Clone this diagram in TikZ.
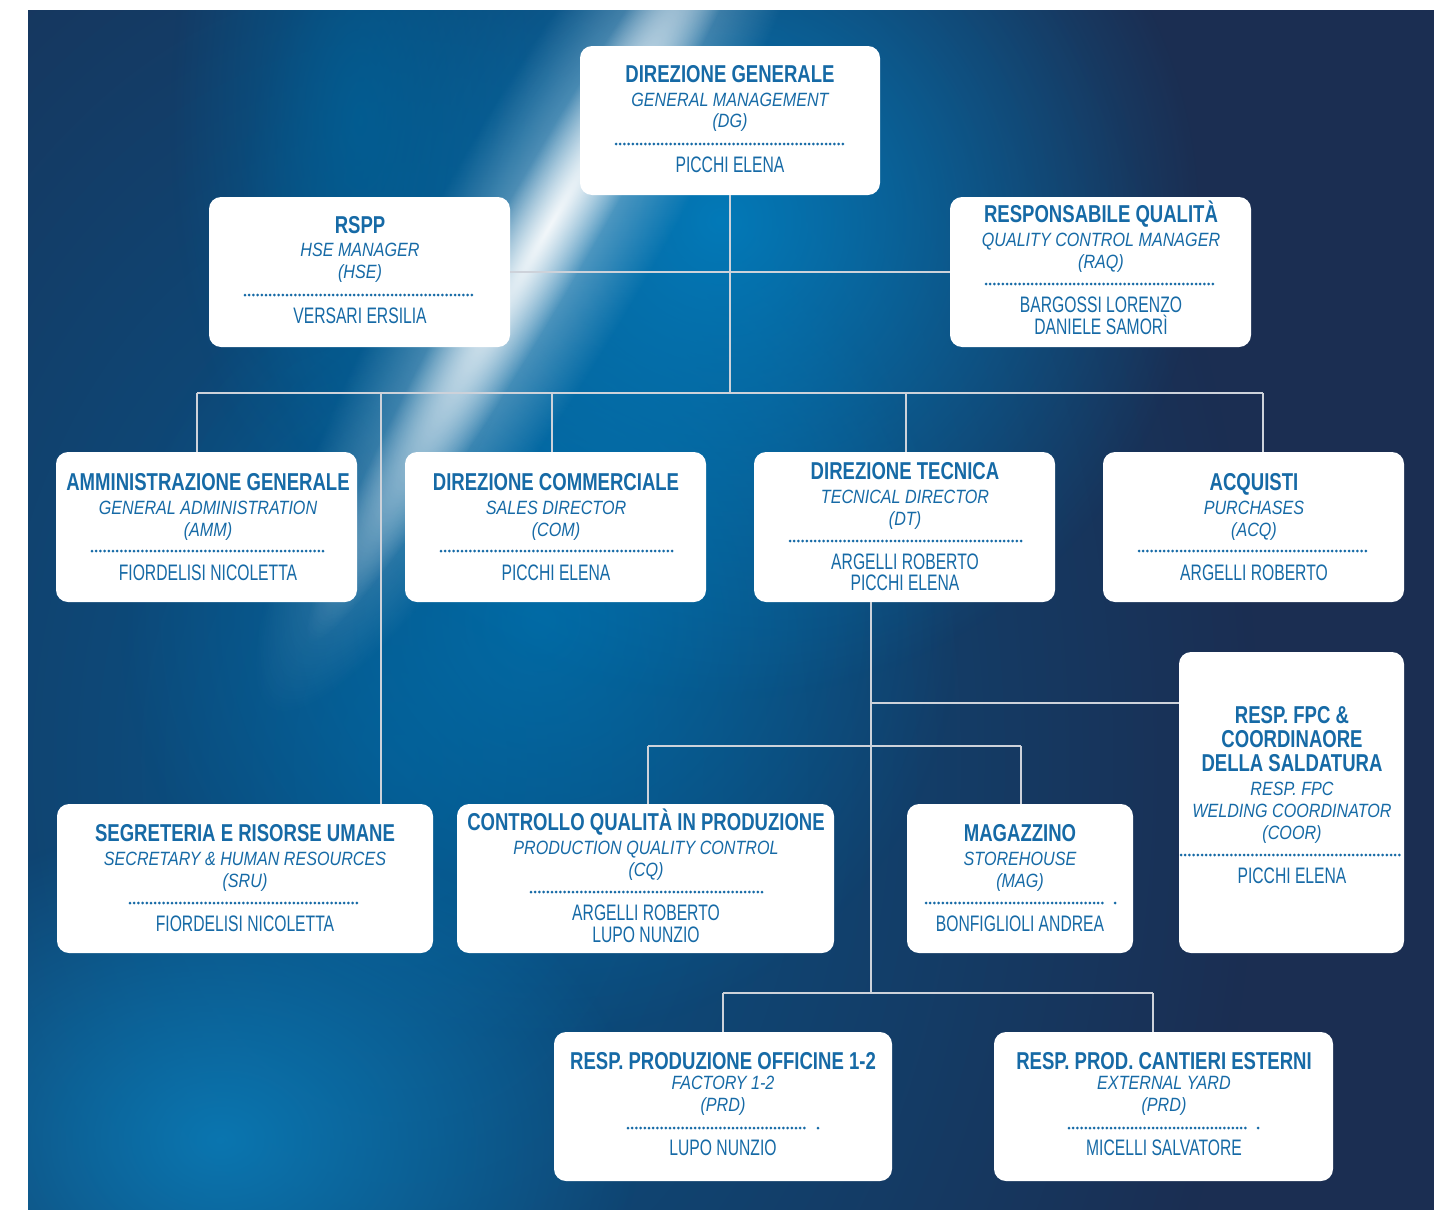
\documentclass[tikz,border=0pt]{standalone}
\usepackage{fontspec}
\setmainfont{Liberation Sans}
\newfontfamily\hfont[FakeStretch=0.76]{Liberation Sans}
\newfontfamily\ifont[FakeStretch=0.84]{Liberation Sans}
\newfontfamily\nfont[FakeStretch=0.70]{Liberation Sans}
\usetikzlibrary{fadings}
\tikzfading[name=soft, inner color=transparent!0, outer color=transparent!100]
\definecolor{tblue}{RGB}{22,106,166}
\definecolor{navy}{RGB}{27,46,82}
\definecolor{lineg}{RGB}{205,210,218}
\definecolor{gA}{RGB}{6,88,142}
\definecolor{gB}{RGB}{0,132,198}
\definecolor{gC}{RGB}{0,112,172}
\definecolor{gD}{RGB}{10,126,186}
\definecolor{gE}{RGB}{0,96,150}
\newcommand\tl[5]{\node[#2] (#1) at (#3,#4) {#5};}
\tikzset{
  orgbox/.style={fill=white, rounded corners=6pt, inner sep=0pt},
  hd/.style={font=\hfont\bfseries\fontsize{12.2}{12.2}\selectfont, text=tblue, inner sep=0pt, text height=8.75pt, text depth=0pt, anchor=center},
  it/.style={font=\ifont\itshape\fontsize{9.6}{9.6}\selectfont, text=tblue, inner sep=0pt, text height=6.9pt, text depth=0pt, anchor=center},
  nm/.style={font=\nfont\fontsize{11.2}{11.2}\selectfont, text=tblue, inner sep=0pt, text height=8pt, text depth=0pt, anchor=center},
  dotsep/.style={draw=tblue, line width=1.5pt, line cap=round, dash pattern=on 0pt off 2.1pt},
  conn/.style={draw=lineg, line width=0.8pt}
}
\begin{document}
\begin{tikzpicture}[x=0.5pt,y=-0.5pt]
\useasboundingbox (0,0) rectangle (1436,1210);
% ---------- background ----------
\begin{scope}
\clip (28,10) rectangle (1434,1210);
\fill[navy] (28,10) rectangle (1434,1210);
\fill[gA, fill opacity=0.95, path fading=soft] (400,760) ellipse [x radius=860, y radius=1200];
\fill[gC, fill opacity=0.8, path fading=soft] (540,620) ellipse [x radius=420, y radius=420];
\fill[gB, fill opacity=0.85, path fading=soft] (720,220) ellipse [x radius=480, y radius=480];
\fill[gD, fill opacity=0.85, path fading=soft] (220,1140) ellipse [x radius=420, y radius=320];
\fill[gE, fill opacity=0.8, path fading=soft] (360,120) ellipse [x radius=190, y radius=420];
\begin{scope}[transform canvas={rotate around={60:(550,225)}}]
\fill[white, fill opacity=0.5, path fading=soft] (550,225) ellipse [x radius=560, y radius=110];
\fill[white, fill opacity=0.9, path fading=soft] (550,225) ellipse [x radius=480, y radius=48];
\end{scope}
\end{scope}
% ---------- boxes ----------
\node[orgbox, minimum width=150pt, minimum height=74.5pt] (dg) at (730,120.5) {};
\node[orgbox, minimum width=150.5pt, minimum height=75pt] (rspp) at (359.5,272) {};
\node[orgbox, minimum width=150.5pt, minimum height=75pt] (raq) at (1100.5,272) {};
\node[orgbox, minimum width=150.5pt, minimum height=75pt] (amm) at (206.5,527) {};
\node[orgbox, minimum width=150.5pt, minimum height=75pt] (com) at (555.5,527) {};
\node[orgbox, minimum width=150.5pt, minimum height=75pt] (dt) at (904.5,527) {};
\node[orgbox, minimum width=150.5pt, minimum height=75pt] (acq) at (1253.5,527) {};
\node[orgbox, minimum width=112.5pt, minimum height=150.5pt] (coor) at (1291.5,802.5) {};
\node[orgbox, minimum width=188pt, minimum height=74.5pt] (sru) at (245,878.5) {};
\node[orgbox, minimum width=188.5pt, minimum height=74.5pt] (cq) at (645.5,878.5) {};
\node[orgbox, minimum width=113pt, minimum height=74.5pt] (mag) at (1020,878.5) {};
\node[orgbox, minimum width=169pt, minimum height=74.5pt] (prda) at (723,1106.5) {};
\node[orgbox, minimum width=169.5pt, minimum height=74.5pt] (prdb) at (1163.5,1106.5) {};
% ---------- connectors ----------
\coordinate (b0) at (730,393);
\coordinate (bA) at (197,393);
\coordinate (bS) at (381,393);
\coordinate (bC) at (552,393);
\coordinate (bD) at (906,393);
\coordinate (bR) at (1263,393);
\coordinate (s0) at (871,602);
\coordinate (s1) at (871,703);
\coordinate (s2) at (871,746);
\coordinate (s3) at (871,993);
\coordinate (qL) at (648,746);
\coordinate (qR) at (1021,746);
\coordinate (pL) at (723,993);
\coordinate (pR) at (1153,993);
\draw[conn] (dg.south) -- (b0);
\draw[conn] (rspp.east) -- (raq.west);
\draw[conn] (bA) -- (bR);
\draw[conn] (bA) -- (bA |- amm.north);
\draw[conn] (bS) -- (bS |- sru.north);
\draw[conn] (bC) -- (bC |- com.north);
\draw[conn] (bD) -- (bD |- dt.north);
\draw[conn] (bR) -- (bR |- acq.north);
\draw[conn] (s0) -- (s3);
\draw[conn] (s1) -- (s1 -| coor.west);
\draw[conn] (qL) -- (qR);
\draw[conn] (qL) -- (qL |- cq.north);
\draw[conn] (qR) -- (qR |- mag.north);
\draw[conn] (pL) -- (pR);
\draw[conn] (pL) -- (pL |- prda.north);
\draw[conn] (pR) -- (pR |- prdb.north);
% ---------- texts ----------
% DG
\tl{dg1}{hd}{730}{74}{DIREZIONE GENERALE}
\tl{dg2}{it}{730}{100}{GENERAL MANAGEMENT}
\tl{dg3}{it}{730}{121}{(DG)}
\draw[dotsep] (616,144) -- (846,144);
\tl{dg4}{nm}{730}{164}{PICCHI ELENA}
% RSPP
\tl{rs1}{hd}{360}{225}{RSPP}
\tl{rs2}{it}{360}{250}{HSE MANAGER}
\tl{rs3}{it}{360}{272}{(HSE)}
\draw[dotsep] (245,295) -- (475,295);
\tl{rs4}{nm}{360}{315}{VERSARI ERSILIA}
% RAQ
\tl{rq1}{hd}{1101}{214}{RESPONSABILE QUALITÀ}
\tl{rq2}{it}{1101}{240}{QUALITY CONTROL MANAGER}
\tl{rq3}{it}{1101}{262}{(RAQ)}
\draw[dotsep] (986,284) -- (1216,284);
\tl{rq4}{nm}{1101}{304}{BARGOSSI LORENZO}
\tl{rq5}{nm}{1101}{326}{DANIELE SAMORÌ}
% AMM
\tl{am1}{hd}{208}{482}{AMMINISTRAZIONE GENERALE}
\tl{am2}{it}{208}{508}{GENERAL ADMINISTRATION}
\tl{am3}{it}{208}{530}{(AMM)}
\draw[dotsep] (92,551) -- (323,551);
\tl{am4}{nm}{208}{572}{FIORDELISI NICOLETTA}
% COM
\tl{co1}{hd}{556}{482}{DIREZIONE COMMERCIALE}
\tl{co2}{it}{556}{508}{SALES DIRECTOR}
\tl{co3}{it}{556}{530}{(COM)}
\draw[dotsep] (441,551) -- (672,551);
\tl{co4}{nm}{556}{572}{PICCHI ELENA}
% DT
\tl{dt1}{hd}{905}{471}{DIREZIONE TECNICA}
\tl{dt2}{it}{905}{497}{TECNICAL DIRECTOR}
\tl{dt3}{it}{905}{519}{(DT)}
\draw[dotsep] (790,541) -- (1021,541);
\tl{dt4}{nm}{905}{561}{ARGELLI ROBERTO}
\tl{dt5}{nm}{905}{582}{PICCHI ELENA}
% ACQ
\tl{aq1}{hd}{1254}{482}{ACQUISTI}
\tl{aq2}{it}{1254}{508}{PURCHASES}
\tl{aq3}{it}{1254}{530}{(ACQ)}
\draw[dotsep] (1139,551) -- (1369,551);
\tl{aq4}{nm}{1254}{572}{ARGELLI ROBERTO}
% COOR
\tl{cr1}{hd}{1292}{715}{RESP. FPC \&}
\tl{cr2}{hd}{1292}{739}{COORDINAORE}
\tl{cr3}{hd}{1292}{763}{DELLA SALDATURA}
\tl{cr4}{it}{1292}{789}{RESP. FPC}
\tl{cr5}{it}{1292}{811}{WELDING COORDINATOR}
\tl{cr6}{it}{1292}{833}{(COOR)}
\draw[dotsep] (1181,855) -- (1403,855);
\tl{cr7}{nm}{1292}{875}{PICCHI ELENA}
% SRU
\tl{sr1}{hd}{245}{833}{SEGRETERIA E RISORSE UMANE}
\tl{sr2}{it}{245}{859}{SECRETARY \& HUMAN RESOURCES}
\tl{sr3}{it}{245}{881}{(SRU)}
\draw[dotsep] (130,903) -- (360,903);
\tl{sr4}{nm}{245}{923}{FIORDELISI NICOLETTA}
% CQ
\tl{cq1}{hd}{646}{822}{CONTROLLO QUALITÀ IN PRODUZIONE}
\tl{cq2}{it}{646}{848}{PRODUCTION QUALITY CONTROL}
\tl{cq3}{it}{646}{870}{(CQ)}
\draw[dotsep] (531,892) -- (762,892);
\tl{cq4}{nm}{646}{912}{ARGELLI ROBERTO}
\tl{cq5}{nm}{646}{934}{LUPO NUNZIO}
% MAG
\tl{mg1}{hd}{1020}{833}{MAGAZZINO}
\tl{mg2}{it}{1020}{859}{STOREHOUSE}
\tl{mg3}{it}{1020}{881}{(MAG)}
\draw[dotsep] (926,903) -- (1106,903);
\draw[dotsep] (1115,903) -- (1115,903);
\tl{mg4}{nm}{1020}{923}{BONFIGLIOLI ANDREA}
% PRD 1
\tl{pa1}{hd}{723}{1061}{RESP. PRODUZIONE OFFICINE 1-2}
\tl{pa2}{it}{723}{1083}{FACTORY 1-2}
\tl{pa3}{it}{723}{1105}{(PRD)}
\draw[dotsep] (628,1128) -- (808,1128);
\draw[dotsep] (818,1128) -- (818,1128);
\tl{pa4}{nm}{723}{1147}{LUPO NUNZIO}
% PRD 2
\tl{pb1}{hd}{1164}{1061}{RESP. PROD. CANTIERI ESTERNI}
\tl{pb2}{it}{1164}{1083}{EXTERNAL YARD}
\tl{pb3}{it}{1164}{1105}{(PRD)}
\draw[dotsep] (1069,1128) -- (1249,1128);
\draw[dotsep] (1258,1128) -- (1258,1128);
\tl{pb4}{nm}{1164}{1147}{MICELLI SALVATORE}
\end{tikzpicture}
\end{document}
